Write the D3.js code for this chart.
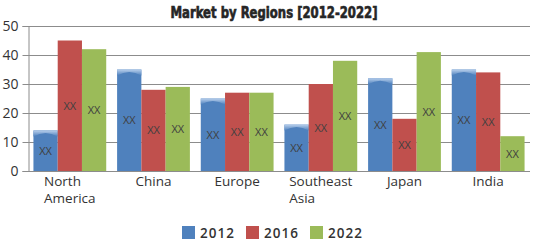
<!DOCTYPE html>
<html>
<head>
<meta charset="utf-8">
<script src="https://cdn.jsdelivr.net/npm/d3@7"></script>
<style>
  html, body { margin: 0; padding: 0; background: #fff; }
  svg { display: block; }
</style>
</head>
<body>
<svg id="chart" width="539" height="242"></svg>
<script>
// chart values
const regions = [["North", "America"], ["China"], ["Europe"], ["Southeast", "Asia"], ["Japan"], ["India"]];
const years = ["2012", "2016", "2022"];
const v2012 = [14, 35, 25, 16, 32, 35];
const v2016 = [45, 28, 27, 30, 18, 34];
const v2022 = [42, 29, 27, 38, 41, 12];
const yTicks = [0, 10, 20, 30, 40, 50];
const barLabel = "XX";

const colors = ["#4f81bd", "#c0504d", "#9bbb59"];
const series = [v2012, v2016, v2022];

const svg = d3.select("#chart");
const margin = { top: 26, right: 9, bottom: 71, left: 28 };
const w = 539, h = 242;

const x = d3.scaleBand()
  .domain(regions.map((d, i) => i))
  .range([margin.left, w - margin.right])
  .paddingInner(0.13).paddingOuter(0.065);

const xs = d3.scaleBand().domain(years).range([0, x.bandwidth()]);

const y = d3.scaleLinear().domain([0, 50]).range([h - margin.bottom, margin.top]);

// gradient for the blue "cylinder" top
const defs = svg.append("defs");
const grad = defs.append("linearGradient").attr("id", "topHi")
  .attr("x1", 0).attr("y1", 0).attr("x2", 0).attr("y2", 1);
grad.append("stop").attr("offset", "0%").attr("stop-color", "#b8cfec");
grad.append("stop").attr("offset", "100%").attr("stop-color", "#4f81bd");

// title (heavy condensed look)
svg.append("text")
  .attr("x", 274).attr("y", 17.5)
  .attr("text-anchor", "middle")
  .attr("font-family", "DejaVu Sans Condensed, DejaVu Sans")
  .attr("font-weight", "bold")
  .attr("font-size", 15)
  .attr("fill", "#262626")
  .attr("stroke", "#262626").attr("stroke-width", 0.6)
  .attr("textLength", 207).attr("lengthAdjust", "spacingAndGlyphs")
  .text("Market by Regions [2012-2022]");

// grid
svg.append("g").selectAll("line")
  .data(yTicks)
  .join("line")
  .attr("x1", margin.left).attr("x2", w - margin.right)
  .attr("y1", d => y(d) + 0.5).attr("y2", d => y(d) + 0.5)
  .attr("stroke", "#8c8c8c").attr("stroke-width", 1);

// y axis
const yAxis = svg.append("g")
  .attr("transform", `translate(${margin.left + 0.5},0)`)
  .call(d3.axisLeft(y).tickValues(yTicks).tickSize(6).tickPadding(4));
yAxis.select(".domain").attr("stroke", "#8c8c8c");
yAxis.selectAll(".tick line").attr("stroke", "#8c8c8c");
yAxis.selectAll(".tick text")
  .attr("font-family", "Open Sans, DejaVu Sans")
  .attr("font-size", 14)
  .attr("fill", "#333");

// bars
series.forEach((vals, s) => {
  const g = svg.append("g");
  g.selectAll("rect")
    .data(vals)
    .join("rect")
    .attr("x", (d, i) => x(i) + xs(years[s]))
    .attr("y", d => y(d))
    .attr("width", xs.bandwidth())
    .attr("height", d => y(0) - y(d))
    .attr("fill", colors[s]);

  if (s === 0) {
    vals.forEach((d, i) => {
      const bx = x(i) + xs(years[s]);
      const bw = xs.bandwidth();
      const top = y(d);
      g.append("path")
        .attr("d", `M${bx},${top} L${bx + bw},${top} L${bx + bw},${top + 6} Q${bx + bw / 2},${top - 1} ${bx},${top + 6} Z`)
        .attr("fill", "url(#topHi)");
    });
  }

  g.selectAll("text")
    .data(vals)
    .join("text")
    .attr("x", (d, i) => x(i) + xs(years[s]) + xs.bandwidth() / 2)
    .attr("y", d => (y(d) + y(0)) / 2 + 4)
    .attr("text-anchor", "middle")
    .attr("font-family", "Open Sans, DejaVu Sans")
    .attr("font-size", 11)
    .attr("fill", "#404040")
    .text(barLabel);
});

// category labels: block centred, lines left aligned
const catG = svg.append("g")
  .attr("font-family", "Open Sans, DejaVu Sans")
  .attr("font-size", 13.5)
  .attr("fill", "#333");
regions.forEach((lines, i) => {
  const t = catG.append("text").attr("y", 186);
  lines.forEach((ln, k) => {
    t.append("tspan").attr("dy", k === 0 ? 0 : 17).text(ln);
  });
  let maxW = 0;
  t.selectAll("tspan").each(function () {
    maxW = Math.max(maxW, this.getComputedTextLength());
  });
  const cx = x(i) + x.bandwidth() / 2;
  t.selectAll("tspan").attr("x", cx - maxW / 2);
});

// legend
const legX = [182, 246, 310];
const leg = svg.append("g");
years.forEach((yr, i) => {
  leg.append("rect")
    .attr("x", legX[i]).attr("y", 226)
    .attr("width", 13).attr("height", 13)
    .attr("fill", colors[i]);
  leg.append("text")
    .attr("x", legX[i] + 18).attr("y", 238)
    .attr("font-family", "Open Sans, DejaVu Sans")
    .attr("font-weight", 600)
    .attr("font-size", 13.5)
    .attr("letter-spacing", 1)
    .attr("fill", "#333")
    .text(yr);
});
</script>
</body>
</html>
